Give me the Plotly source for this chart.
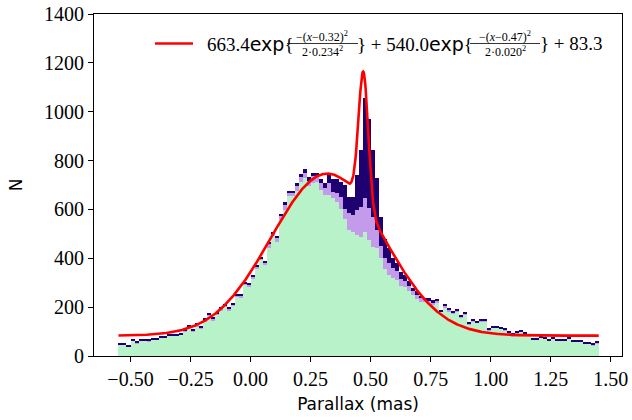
import numpy as np
import plotly.graph_objects as go

# ---------------- data ----------------
bin_lo, bin_hi, n_bins = -0.55, 1.45, 120

green = [46, 49, 39, 64, 50, 64, 62, 59, 68, 66, 76, 76, 84, 82, 85, 88, 102, 118, 102, 122,
         114, 143, 165, 146, 169, 183, 202, 187, 206, 242, 240, 292, 286, 318, 358, 391, 374, 443, 493, 465,
         555, 599, 653, 657, 674, 713, 730, 696, 710, 714, 680, 659, 659, 645, 632, 600, 560, 516, 509, 495,
         489, 509, 475, 448, 441, 400, 355, 331, 320, 310, 285, 282, 265, 250, 235, 223, 222, 222, 212, 221,
         181, 196, 181, 175, 181, 158, 169, 130, 141, 137, 140, 143, 104, 115, 115, 111, 106, 93, 81, 91,
         99, 90, 84, 68, 68, 76, 70, 62, 71, 62, 62, 62, 71, 58, 58, 58, 50, 50, 43, 53]
purple = [0, 0, 0, 0, 4, 0, 2, 4, 0, 2, 0, 0, 0, 2, 0, 2, 4, 3, 2, 6,
          3, 5, 4, 6, 6, 10, 5, 8, 4, 6, 8, 5, 8, 8, 8, 10, 10, 16, 10, 20,
          20, 18, 15, 12, 25, 20, 20, 20, 25, 20, 27, 28, 48, 28, 34, 52, 40, 68, 68, 102,
          122, 136, 129, 122, 75, 50, 45, 50, 40, 40, 30, 25, 20, 15, 15, 15, 8, 6, 8, 8,
          3, 10, 8, 3, 4, 2, 4, 2, 3, 2, 6, 2, 4, 2, 2, 2, 2, 2, 6, 4,
          2, 2, 1, 1, 1, 1, 1, 1, 1, 1, 1, 1, 1, 1, 1, 1, 1, 1, 4, 1]
navy = [6, 6, 6, 6, 5, 6, 6, 5, 6, 6, 6, 6, 6, 6, 6, 6, 6, 6, 6, 6,
        6, 6, 6, 6, 6, 6, 6, 6, 6, 6, 6, 6, 6, 6, 6, 6, 6, 8, 6, 6,
        6, 15, 5, 6, 8, 12, 15, 15, 15, 14, 16, 20, 34, 50, 57, 62, 100, 68, 75, 144,
        232, 410, 366, 273, 211, 120, 80, 60, 40, 30, 30, 25, 20, 12, 15, 8, 8, 8, 8, 3,
        6, 3, 6, 6, 6, 6, 6, 6, 6, 6, 6, 5, 5, 5, 5, 5, 5, 5, 5, 5,
        5, 5, 5, 5, 5, 5, 5, 5, 5, 5, 5, 5, 5, 5, 5, 5, 5, 5, 5, 5]

# fit parameters shown in the legend
amp1, mu1, sig1 = 663.4, 0.32, 0.234
amp2, mu2, sig2 = 540.0, 0.47, 0.020
offset = 83.3

x_ticks = [-0.50, -0.25, 0.00, 0.25, 0.50, 0.75, 1.00, 1.25, 1.50]
x_tick_text = ["\u22120.50", "\u22120.25", "0.00", "0.25", "0.50", "0.75", "1.00", "1.25", "1.50"]
y_ticks = [0, 200, 400, 600, 800, 1000, 1200, 1400]

# ---------------- derived ----------------
edges = np.linspace(bin_lo, bin_hi, n_bins + 1)
centers = 0.5 * (edges[:-1] + edges[1:])
width = edges[1] - edges[0]

xf = np.linspace(bin_lo, bin_hi, 1200)
yf = (amp1 * np.exp(-(xf - mu1) ** 2 / (2 * sig1 ** 2))
      + amp2 * np.exp(-(xf - mu2) ** 2 / (2 * sig2 ** 2)) + offset)

GREEN = "#b7f2c9"
PURPLE = "#c49bea"
NAVY = "#1f0070"

fig = go.Figure()
for vals, col, nm in [(green, GREEN, "g"), (purple, PURPLE, "p"), (navy, NAVY, "n")]:
    fig.add_trace(go.Bar(x=centers, y=vals, width=width, marker=dict(color=col, line=dict(width=0)),
                         showlegend=False, name=nm))
fig.add_trace(go.Scatter(x=xf, y=yf, mode="lines", line=dict(color="#ff0000", width=2.6),
                         showlegend=False))

# ---------------- layout ----------------
L, R, T, B = 94, 10, 14, 64
W, H = 632, 420
pw, ph = W - L - R, H - T - B


def px(x):
    return (x - L) / pw


def py(y):
    return (H - B - y) / ph


serif = "Liberation Serif"
sans = "DejaVu Sans"

fig.update_layout(
    width=W, height=H, margin=dict(l=L, r=R, t=T, b=B, autoexpand=False),
    paper_bgcolor="white", plot_bgcolor="white",
    barmode="stack", bargap=0,
    xaxis=dict(range=[-0.652, 1.547], tickvals=x_ticks, ticktext=x_tick_text, automargin=False,
               ticks="outside", ticklen=5, tickwidth=1, tickcolor="black",
               showline=True, linecolor="black", linewidth=1, mirror=True,
               showgrid=False, zeroline=False,
               tickfont=dict(family=serif, size=20, color="black"),
               title=dict(text="Parallax (mas)", font=dict(family=sans, size=17, color="black"), standoff=9)),
    yaxis=dict(range=[0, 1400], tickvals=y_ticks, automargin=False,
               ticks="outside", ticklen=5, tickwidth=1, tickcolor="black",
               showline=True, linecolor="black", linewidth=1, mirror=True,
               showgrid=False, zeroline=False,
               tickfont=dict(family=serif, size=20, color="black"),
               title=dict(text="N", font=dict(family=sans, size=17, color="black"), standoff=17)),
)

# legend drawn by hand (fractions)
ly = 43.5
fig.add_shape(type="line", xref="paper", yref="paper", x0=px(155), x1=px(193), y0=py(ly), y1=py(ly),
              line=dict(color="#ff0000", width=2.6))

big = dict(family=serif, size=19, color="black")
small = dict(family=serif, size=12, color="black")
exp_s = '<span style="font-family:DejaVu Sans">exp</span>'


def ann(x, y, text, font, anchor="left"):
    fig.add_annotation(xref="paper", yref="paper", x=px(x), y=py(y), text=text, showarrow=False,
                       xanchor=anchor, yanchor="middle", font=font, borderpad=0)


def frac(xc, x0, x1, num, den):
    ann(xc, 36.5, num, small, "center")
    ann(xc, 51.5, den, small, "center")
    fig.add_shape(type="line", xref="paper", yref="paper", x0=px(x0), x1=px(x1), y0=py(ly), y1=py(ly),
                  line=dict(color="black", width=0.8))


ann(206, ly, f"{amp1:.1f}{exp_s}{{", big)
frac(322, 287, 358, f"\u2212(<i>x</i>\u2212{mu1:.2f})<sup>2</sup>", f"2\u00b7{sig1:.3f}<sup>2</sup>")
ann(356, ly, f"}} + {amp2:.1f}{exp_s}{{", big)
frac(505, 470, 540, f"\u2212(<i>x</i>\u2212{mu2:.2f})<sup>2</sup>", f"2\u00b7{sig2:.3f}<sup>2</sup>")
ann(539, ly, f"}} + {offset:.1f}", big)

fig.write_html("out.html")
